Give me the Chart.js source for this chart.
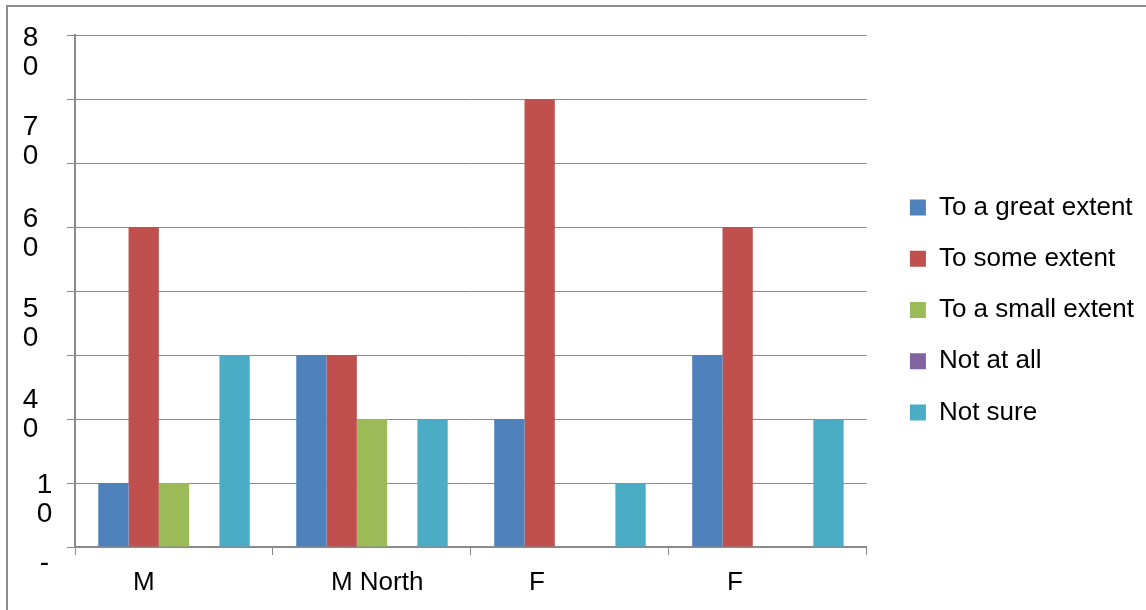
<!DOCTYPE html>
<html>
<head>
<meta charset="utf-8">
<script src="https://cdn.jsdelivr.net/npm/chart.js@4.4.0/dist/chart.umd.min.js"></script>
<style>
body{margin:0;background:#fff;}
#caja{position:relative;width:1146px;height:610px;overflow:hidden;}
#marco{position:absolute;left:6px;top:5px;right:-10px;bottom:-10px;border-left:2px solid #8c8c8c;border-top:2px solid #8c8c8c;}
canvas{position:absolute;left:0;top:0;}
</style>
</head>
<body>
<div id="caja"><div id="marco"></div><canvas id="grafica" width="1146" height="610"></canvas></div>
<script>
var categorias = ['M', 'M North', 'F', 'F'];
var series = ['To a great extent', 'To some extent', 'To a small extent', 'Not at all', 'Not sure'];

var valoresGran = [10, 30, 20, 30];
var valoresAlgo = [50, 30, 70, 50];
var valoresPoco = [10, 20, 0, 0];
var valoresNada = [0, 0, 0, 0];
var valoresNoSe = [30, 20, 10, 20];

// etiquetas del eje y tal como salen en la imagen (partidas en dos lineas)
var etiquetasY = [['8', '0'], ['7', '0'], ['6', '0'], ['5', '0'], ['4', '0'], ['1', '0'], ['-']];
var valorEtiquetasY = [77.2, 63.3, 48.9, 34.9, 20.7, 7.4, -2.6];

var colores = ['#4F81BD', '#C0504D', '#9BBB59', '#8064A2', '#4BACC6'];
var gris = '#8a8a8a';
var fuente = '"Liberation Sans", Arial, sans-serif';

var etiquetasEjeY = {
  id: 'etiquetasEjeY',
  afterDraw: function(chart) {
    var ctx = chart.ctx;
    var escala = chart.scales.y;
    ctx.save();
    ctx.font = '28px ' + fuente;
    ctx.fillStyle = '#000';
    ctx.textAlign = 'center';
    ctx.textBaseline = 'middle';
    for (var i = 0; i < etiquetasY.length; i++) {
      var lineas = etiquetasY[i];
      var yc = escala.getPixelForValue(valorEtiquetasY[i]);
      var xc = i < 5 ? 30.5 : 44.5;
      for (var j = 0; j < lineas.length; j++) {
        ctx.fillText(lineas[j], xc, yc + (j - (lineas.length - 1) / 2) * 29);
      }
    }
    ctx.restore();
  }
};

function Grafica() {
  var datos = [valoresGran, valoresAlgo, valoresPoco, valoresNada, valoresNoSe];
  var conjuntos = [];
  for (var x = 0; x < series.length; x++) {
    conjuntos.push({
      label: series[x],
      data: datos[x],
      backgroundColor: colores[x],
      borderWidth: 0,
      categoryPercentage: 0.765,
      barPercentage: 1
    });
  }

  var ctx = document.getElementById('grafica').getContext('2d');
  var myChart = new Chart(ctx, {
    type: 'bar',
    data: {
      labels: categorias,
      datasets: conjuntos
    },
    options: {
      responsive: false,
      devicePixelRatio: 1,
      animation: false,
      layout: { padding: { left: 0, top: 10, right: 2, bottom: 0 } },
      plugins: {
        tooltip: { enabled: false },
        title: { display: false },
        legend: {
          position: 'right',
          maxWidth: 400,
          labels: {
            boxWidth: 16,
            boxHeight: 16,
            padding: 25.25,
            color: '#000',
            font: { family: fuente, size: 26 }
          }
        }
      },
      scales: {
        x: {
          grid: { drawOnChartArea: false, tickLength: 8, color: gris },
          border: { color: gris, width: 2 },
          ticks: {
            align: 'start',
            labelOffset: -41,
            padding: 12,
            maxRotation: 0,
            autoSkip: false,
            color: '#000',
            font: { family: fuente, size: 26 }
          },
          afterFit: function(s) { s.height = 63; }
        },
        arriba: {
          type: 'linear',
          position: 'top',
          grid: { display: false },
          ticks: { display: false },
          border: { display: false },
          afterFit: function(s) { s.height = 25; }
        },
        y: {
          min: 0,
          max: 80,
          ticks: { stepSize: 10, display: false },
          grid: { color: gris, tickLength: 8 },
          border: { color: gris, width: 2 },
          afterFit: function(s) { s.width = 75; }
        },
        hueco: {
          type: 'linear',
          position: 'right',
          grid: { display: false },
          ticks: { display: false },
          border: { display: false },
          afterFit: function(s) { s.width = 17.75; }
        }
      }
    },
    plugins: [etiquetasEjeY]
  });
}

Grafica();
</script>
</body>
</html>
